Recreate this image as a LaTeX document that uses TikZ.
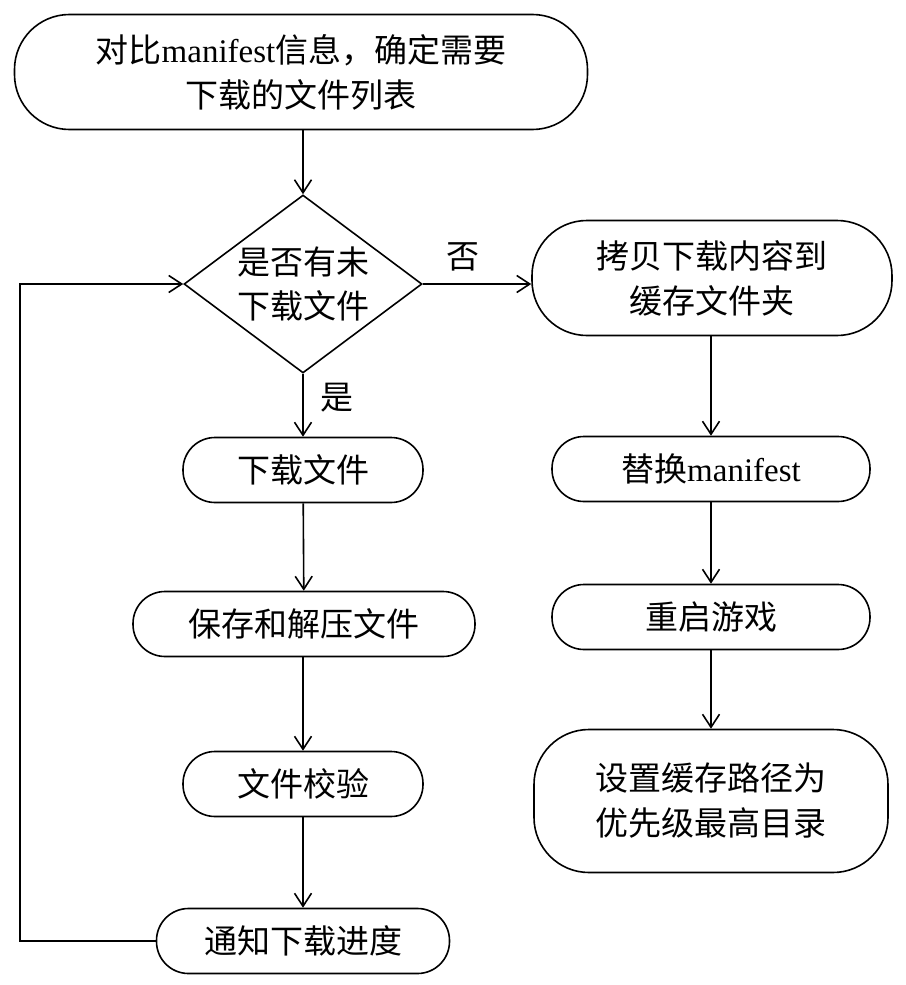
\documentclass[tikz,border=0pt]{standalone}
\usepackage{fontspec}
\setmainfont{Liberation Serif}
\newfontfamily\cjk{Noto Sans CJK SC}
\usetikzlibrary{shapes.geometric,arrows.meta}

\tikzset{
  flow/.style={draw, line width=1.6pt, align=center, inner sep=0pt,
    font=\cjk\fontsize{33pt}{45pt}\selectfont},
  pill/.style={flow, rectangle, rounded corners=32pt, minimum height=65pt},
  bigpill/.style={flow, rectangle, rounded corners=55pt},
  decision/.style={draw, line width=1.6pt, diamond, inner sep=0pt,
    minimum width=238pt, minimum height=178pt},
  decisiontext/.style={align=center, inner sep=0pt,
    font=\cjk\fontsize{33pt}{44pt}\selectfont},
  link/.style={line width=1.6pt, -{Straight Barb[length=13pt,width=17pt,line width=1.6pt]}},
  tag/.style={font=\cjk\fontsize{33pt}{40pt}\selectfont, inner sep=0pt}
}

\begin{document}
\begin{tikzpicture}[x=1pt,y=-1pt]
\useasboundingbox (0,0) rectangle (905,985);

% left column
\node[bigpill, minimum width=573pt, minimum height=115pt] (cmp) at (301,72)
  {对比{\rmfamily manifest}信息，确定需要\\下载的文件列表};
\node[decision, label={[decisiontext]center:是否有未\\下载文件}] (chk) at (303,284) {};
\node[pill, minimum width=240pt] (dl) at (303,470) {下载文件};
\node[pill, minimum width=342pt] (save) at (304,624) {保存和解压文件};
\node[pill, minimum width=240pt] (verify) at (303,784) {文件校验};
\node[pill, minimum width=293pt] (notify) at (303,941) {通知下载进度};

% right column
\node[bigpill, minimum width=360pt, minimum height=115pt] (copy) at (712,278)
  {拷贝下载内容到\\缓存文件夹};
\node[pill, minimum width=318pt] (swap) at (711,469) {替换{\rmfamily manifest}};
\node[pill, minimum width=318pt] (restart) at (711,617) {重启游戏};
\node[bigpill, minimum width=354pt, minimum height=143pt] (prio) at (711,801)
  {设置缓存路径为\\优先级最高目录};

\coordinate (loopb) at (20,941);
\coordinate (loopt) at (20,284);

% connectors
\draw[link] (cmp.south -| chk.north) -- (chk.north);
\draw[link] (chk.south) -- node[tag, right=17pt, pos=0.38] {是} (dl.north);
\draw[link] (dl) -- (save);
\draw[link] (save.south -| verify.north) -- (verify.north);
\draw[link] (verify) -- (notify);
\draw[link] (notify.west) -- (loopb) -- (loopt) -- (chk.west);
\draw[link] (chk.east) -- node[tag, above=12pt, pos=0.37] {否} (chk.east -| copy.west);
\draw[link] (copy.south -| swap.north) -- (swap.north);
\draw[link] (swap) -- (restart);
\draw[link] (restart) -- (prio);
\end{tikzpicture}
\end{document}
